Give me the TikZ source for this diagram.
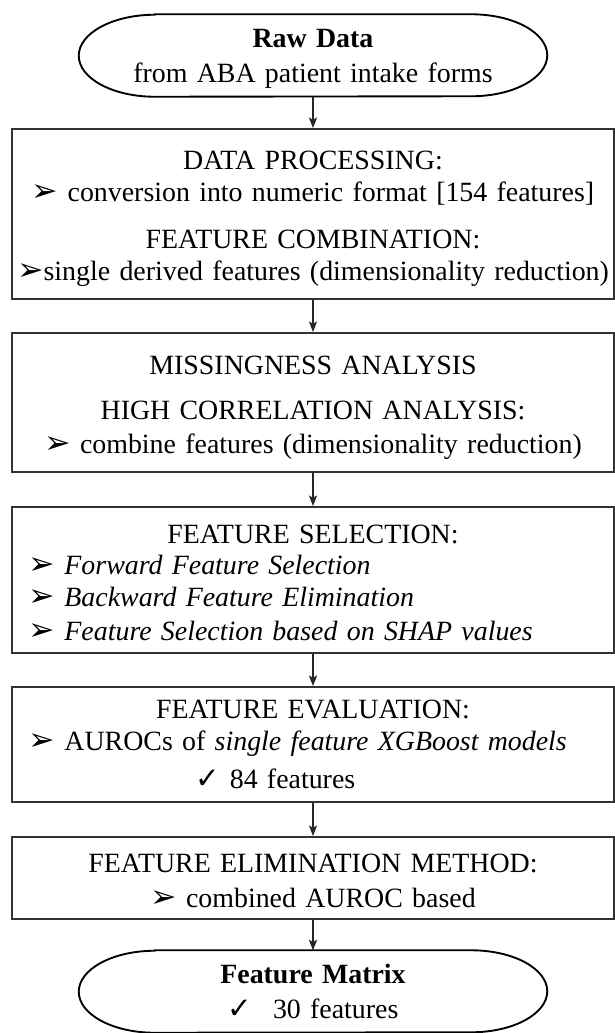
\documentclass[tikz,border=0pt]{standalone}
\usepackage{fontspec}
\setmainfont{Liberation Serif}
\newfontfamily\symfont{DejaVu Sans}
\usetikzlibrary{arrows.meta, positioning}

\newcommand{\pnt}{{\symfont\fontsize{27}{27}\selectfont ➢}}
\newcommand{\chk}{{\symfont\fontsize{25}{25}\selectfont ✓}}

\tikzset{
  stepbox/.style={draw=black!80, line width=1.7pt, minimum width=18.06cm, text width=17.9cm, align=center, inner sep=0pt},
  term/.style={minimum width=14.04cm, minimum height=2.46cm, text width=13.5cm, align=center, inner sep=0pt},
  termline/.style={draw=black, line width=1.6pt},
  flow/.style={-{Stealth[length=9pt, width=7pt, inset=2pt]}, line width=0.9pt, draw=black!85},
}

\begin{document}
\fontsize{23.8}{27}\selectfont
\begin{tikzpicture}[x=0.03cm, y=-0.03cm]
\useasboundingbox (0,0) rectangle (614,1033);
% terminals
\node[term] (raw) at (313, 55.5) {\rule{0pt}{0.76cm}\textbf{Raw Data}\\[0.1cm]from ABA patient intake forms};
\node[term] (matrix) at (313, 991.5) {\textbf{Feature Matrix}\\[0.08cm]\chk\hspace{0.75em}30 features};
\foreach \t in {raw, matrix}
  \draw[termline] ([xshift=2.28cm]\t.north west) -- ([xshift=-2.28cm]\t.north east)
    arc[start angle=90, end angle=-90, x radius=2.28cm, y radius=1.23cm]
    -- ([xshift=2.28cm]\t.south west)
    arc[start angle=270, end angle=90, x radius=2.28cm, y radius=1.23cm] -- cycle;
% steps
\node[stepbox, minimum height=5.1cm] (proc) at (313, 214) {\rule{0pt}{0.85cm}DATA PROCESSING:\\\pnt\ conversion into numeric format [154 features]\\[0.48cm]FEATURE COMBINATION:\\\pnt single derived features (dimensionality reduction)};
\node[stepbox, minimum height=4.17cm] (miss) at (313, 402.5) {\rule{0pt}{0.85cm}MISSINGNESS ANALYSIS\\[0.42cm]HIGH CORRELATION ANALYSIS:\\[0.05cm]\pnt\ combine features (dimensionality reduction)};
\node[stepbox, minimum height=4.38cm, align=left] (select) at (313, 580) {{\centering\rule{0pt}{0.73cm}FEATURE SELECTION:\par}\noindent\hspace*{0.42cm}\pnt\ \textit{Forward Feature Selection}\\\hspace*{0.42cm}\pnt\ \textit{Backward Feature Elimination}\\[0.09cm]\hspace*{0.42cm}\pnt\ \textit{Feature Selection based on SHAP values}};
\node[stepbox, minimum height=3.45cm, align=left] (eval) at (313, 744.5) {{\centering FEATURE EVALUATION:\par}\noindent\hspace*{0.42cm}\pnt\ AUROCs of \textit{single feature XGBoost models}\\[0.2cm]\hspace*{5.44cm}\chk\ 84 features};
\node[stepbox, minimum height=2.46cm] (elim) at (313, 878) {\rule{0pt}{0.7cm}FEATURE ELIMINATION METHOD:\\[0.1cm]\pnt\ combined AUROC based};
% arrows
\draw[flow] (raw.south) -- (proc.north);
\draw[flow] (proc.south) -- (miss.north);
\draw[flow] (miss.south) -- (select.north);
\draw[flow] (select.south) -- (eval.north);
\draw[flow] (eval.south) -- (elim.north);
\draw[flow] (elim.south) -- (matrix.north);
\end{tikzpicture}
\end{document}
